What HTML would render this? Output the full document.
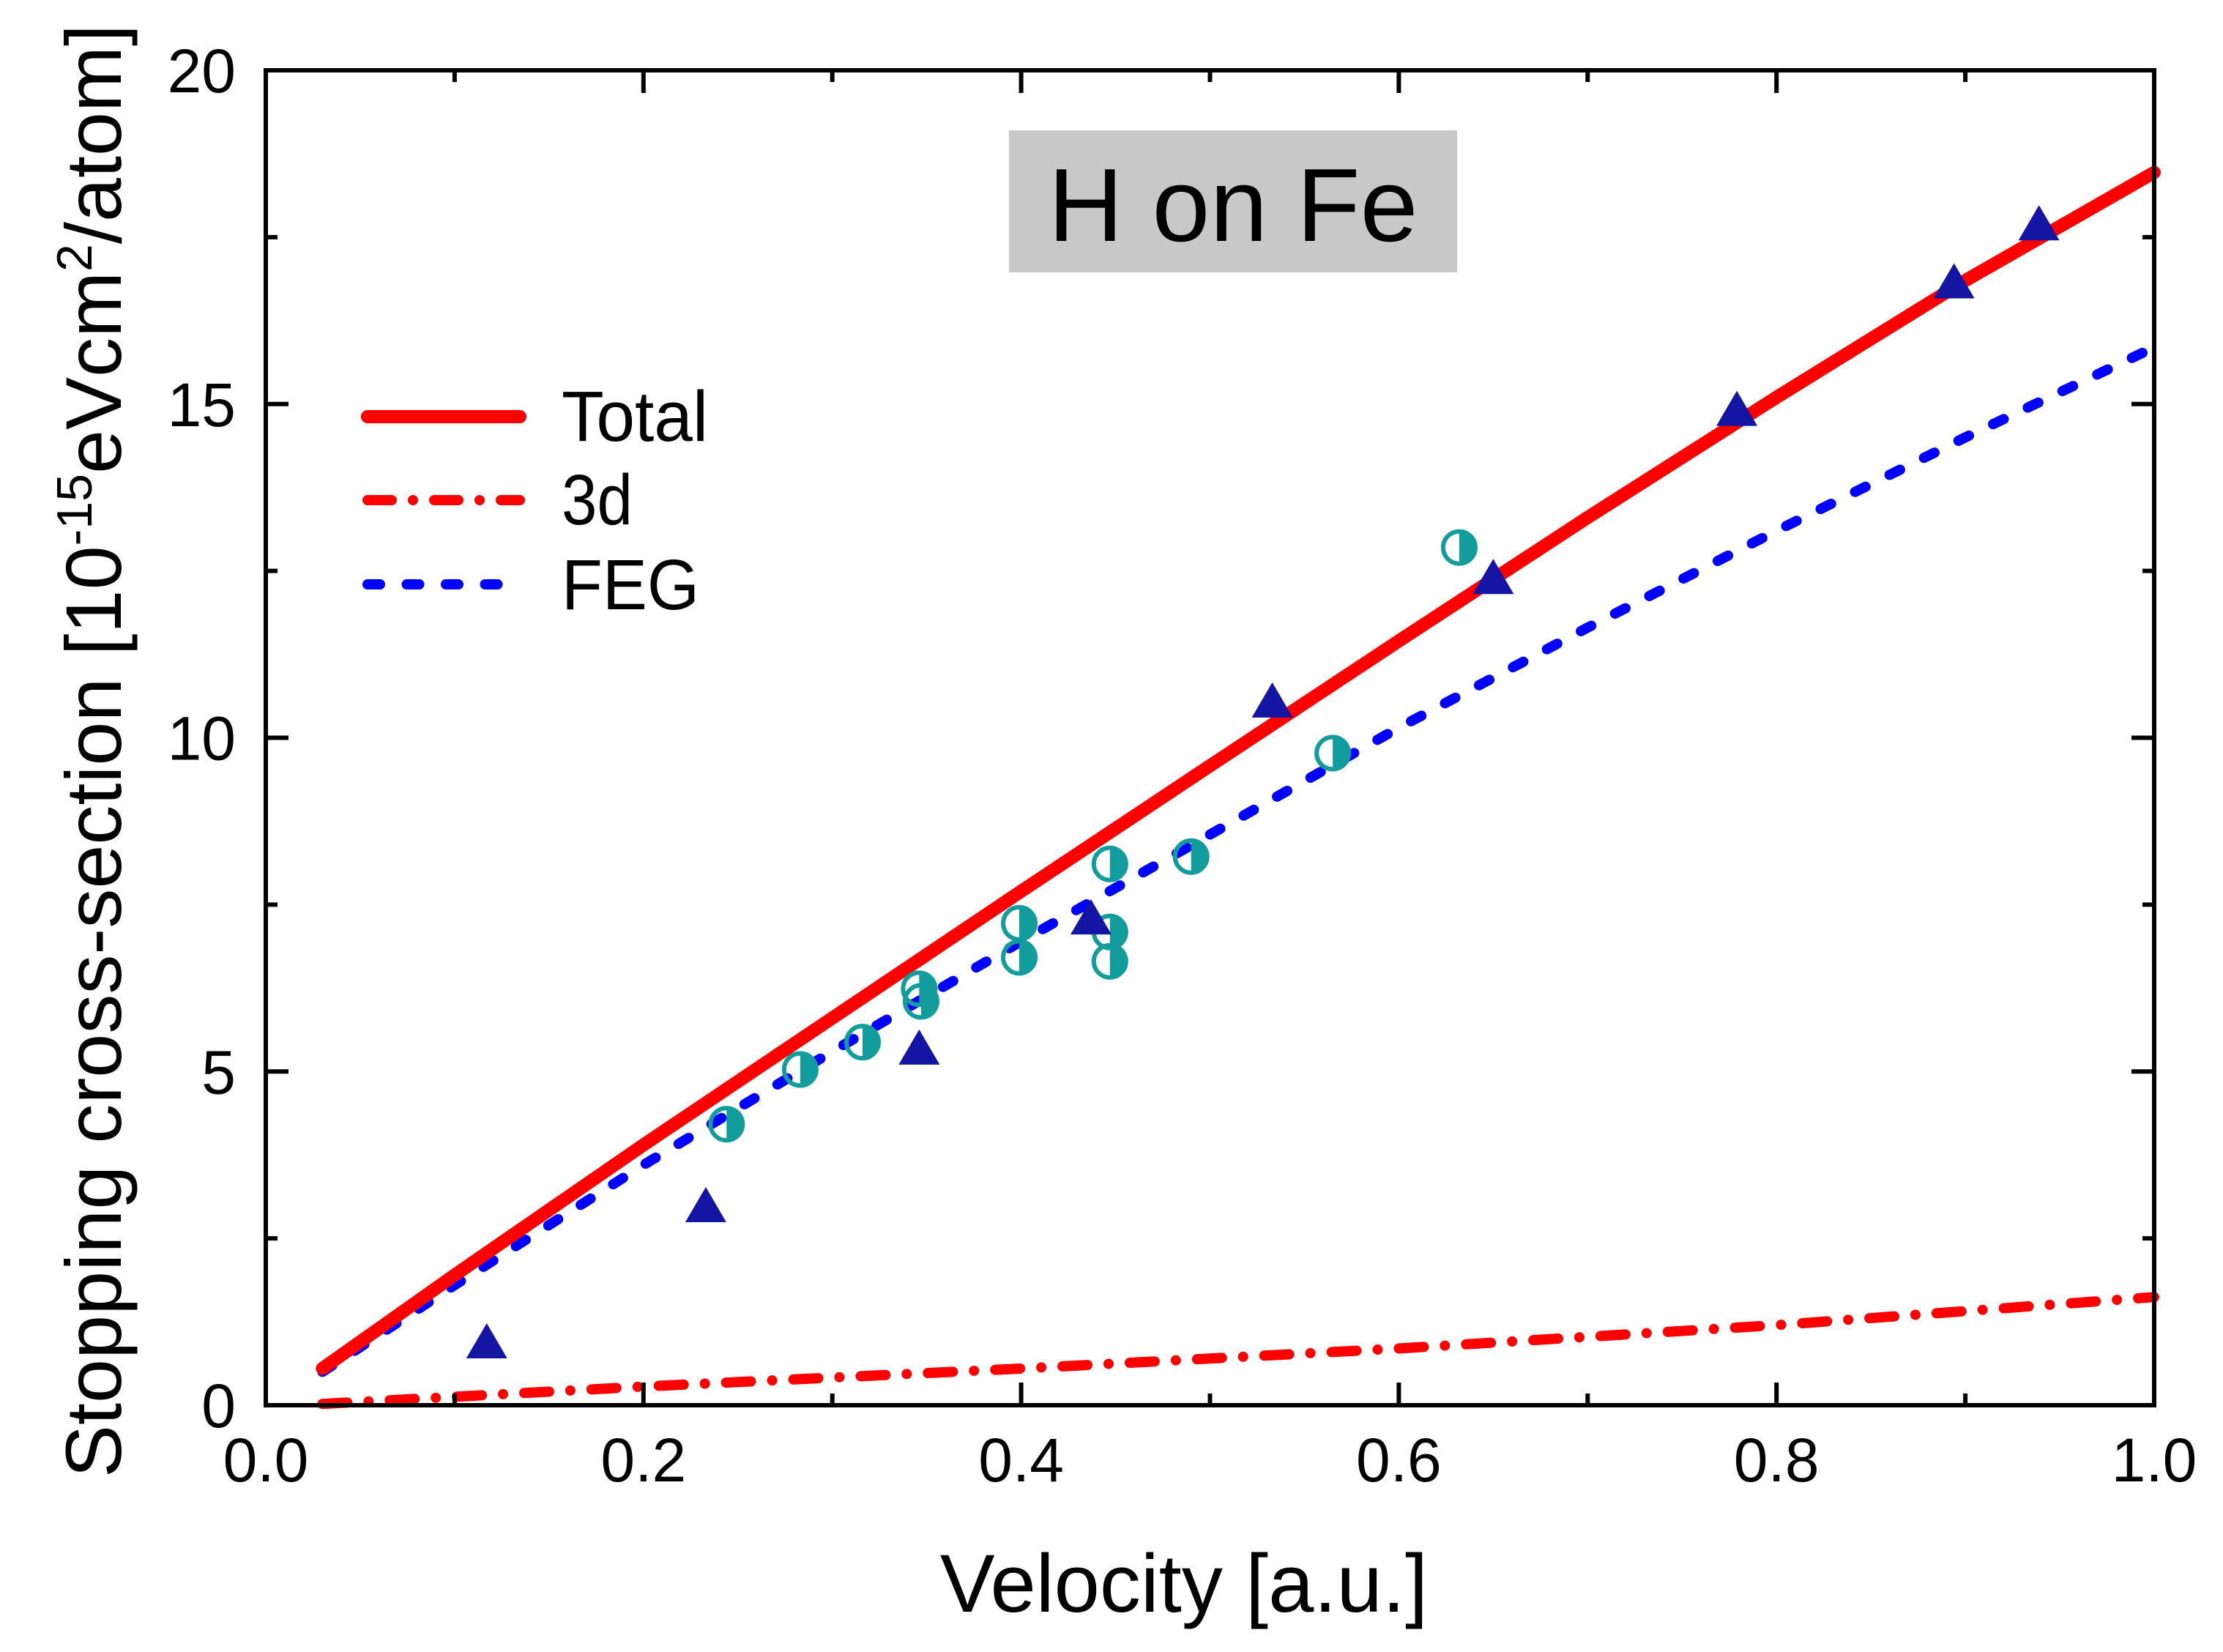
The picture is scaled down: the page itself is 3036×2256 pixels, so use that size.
<!DOCTYPE html>
<html><head><meta charset="utf-8"><style>html,body{margin:0;padding:0;background:#fff}svg{display:block}text{font-family:"Liberation Sans",Arial,sans-serif}</style></head>
<body>
<svg id="chart" width="3036" height="2256" viewBox="0 0 3036 2256" xmlns="http://www.w3.org/2000/svg">
<rect x="1378" y="178" width="612" height="194" fill="#c8c8c8"/>
<text x="1684" y="329" font-size="142" text-anchor="middle">H on Fe</text>
<g id="plot"></g>
<g id="axes"></g>
<text x="1617" y="2201" font-size="112" text-anchor="middle">Velocity [a.u.]</text>
<text transform="translate(165,33) rotate(-90)" font-size="108" text-anchor="end">Stopping cross-section [10<tspan dy="-40" font-size="68">-15</tspan><tspan dy="40">eVcm</tspan><tspan dy="-40" font-size="68">2</tspan><tspan dy="40">/atom]</tspan></text>
<g>
<line x1="502" y1="569" x2="710" y2="569" stroke="#ff0000" stroke-width="18" stroke-linecap="round"/>
<text x="767" y="602" font-size="97" textLength="200" lengthAdjust="spacingAndGlyphs">Total</text>
<line x1="502" y1="683" x2="710" y2="683" stroke="#ff0000" stroke-width="14" stroke-linecap="round" stroke-dasharray="33 29 0 29"/>
<text x="767" y="716" font-size="97" textLength="97" lengthAdjust="spacingAndGlyphs">3d</text>
<line x1="502" y1="798" x2="710" y2="798" stroke="#0000ff" stroke-width="14" stroke-linecap="round" stroke-dasharray="17 36.5"/>
<text x="767" y="832" font-size="97" textLength="188" lengthAdjust="spacingAndGlyphs">FEG</text>
</g>
</svg>
<script>
const lineV = [0.03,0.1,0.2,0.3,0.4,0.5,0.6,0.7,0.8,0.9,1.0];
const totalS = [0.55,1.95,3.9,5.8,7.7,9.58,11.45,13.3,15.1,16.85,18.47];
const fegS = [0.5,1.8,3.6,5.3,6.95,8.55,10.15,11.65,13.1,14.5,15.85];
const d3V = [0.03,0.2,0.4,0.6,0.8,1.0];
const d3S = [0.02,0.28,0.55,0.85,1.2,1.62];
const triV = [0.117,0.233,0.346,0.437,0.533,0.650,0.779,0.894,0.939];
const triS = [0.9,2.94,5.3,7.25,10.5,12.35,14.87,16.78,17.65];
const circV = [0.244,0.283,0.316,0.346,0.347,0.399,0.399,0.447,0.447,0.447,0.490,0.565,0.632];
const circS = [4.21,5.03,5.44,6.24,6.05,7.22,6.71,8.11,7.09,6.65,8.22,9.77,12.85];
const xTicks = [0,0.2,0.4,0.6,0.8,1.0];
const xTickLabels = ['0.0','0.2','0.4','0.6','0.8','1.0'];
const yTicks = [0,5,10,15,20];
const yTickLabels = ['0','5','10','15','20'];

const NS='http://www.w3.org/2000/svg';
const X0=363,X1=2942,Y0=1919,Y1=96;
const sx=v=>X0+(v-0)/(1-0)*(X1-X0);
const sy=s=>Y0-(s-0)/(20-0)*(Y0-Y1);
function mk(tag,attrs,parent){const e=document.createElementNS(NS,tag);for(const k in attrs)e.setAttribute(k,attrs[k]);parent.appendChild(e);return e;}
const plot=document.getElementById('plot');
const axes=document.getElementById('axes');
function path(vs,ss){return vs.map((v,i)=>(i?'L':'M')+sx(v).toFixed(1)+','+sy(ss[i]).toFixed(1)).join(' ');}

let p=mk('path',{d:path(d3V,d3S),fill:'none',stroke:'#ff0000','stroke-width':14,'stroke-linecap':'round','stroke-dasharray':'34 29 0 29'},plot);


p=mk('path',{d:path(lineV,fegS),fill:'none',stroke:'#0000ff','stroke-width':14,'stroke-linecap':'round','stroke-dasharray':'16 36.5'},plot);


p=mk('path',{d:path(lineV,totalS),fill:'none',stroke:'#ff0000','stroke-width':18,'stroke-linecap':'round','stroke-linejoin':'round'},plot);



circV.forEach((v,i)=>{
  const cx=sx(v),cy=sy(circS[i]),r=22;
  const g=mk('g',{},plot);
  
  
  mk('path',{d:`M${cx},${cy-r} A${r},${r} 0 0 1 ${cx},${cy+r} Z`,fill:'#129c9c'},g);
  mk('circle',{cx:cx,cy:cy,r:r,fill:'none',stroke:'#129c9c','stroke-width':6},g);
});
triV.forEach((v,i)=>{
  const cx=sx(v),cy=sy(triS[i]);
  const t=mk('polygon',{points:`${cx},${cy-30} ${cx-28},${cy+18} ${cx+28},${cy+18}`,fill:'#1515a3'},plot);
  
  
});

let fr=mk('rect',{x:X0,y:Y1,width:X1-X0,height:Y0-Y1,fill:'none',stroke:'#000','stroke-width':6},axes);


for(let k=0;k<=10;k++){
  const v=k/10,x=sx(v),L=(k%2===0)?31:16;
  mk('line',{x1:x,y1:Y0,x2:x,y2:Y0-L,stroke:'#000','stroke-width':6},axes);
  mk('line',{x1:x,y1:Y1,x2:x,y2:Y1+L,stroke:'#000','stroke-width':6},axes);
}
for(let k=0;k<=8;k++){
  const s=k*2.5,y=sy(s),L=(k%2===0)?31:16;
  mk('line',{x1:X0,y1:y,x2:X0+L,y2:y,stroke:'#000','stroke-width':6},axes);
  mk('line',{x1:X1,y1:y,x2:X1-L,y2:y,stroke:'#000','stroke-width':6},axes);
}
xTicks.forEach((v,i)=>{
  const t=mk('text',{x:sx(v),y:2023,'font-size':84,'text-anchor':'middle'},axes);
  t.textContent=xTickLabels[i];
  
  
});
yTicks.forEach((s,i)=>{
  const t=mk('text',{x:322,y:sy(s)+30,'font-size':84,'text-anchor':'end'},axes);
  t.textContent=yTickLabels[i];
  
  
});
</script>
</body></html>
